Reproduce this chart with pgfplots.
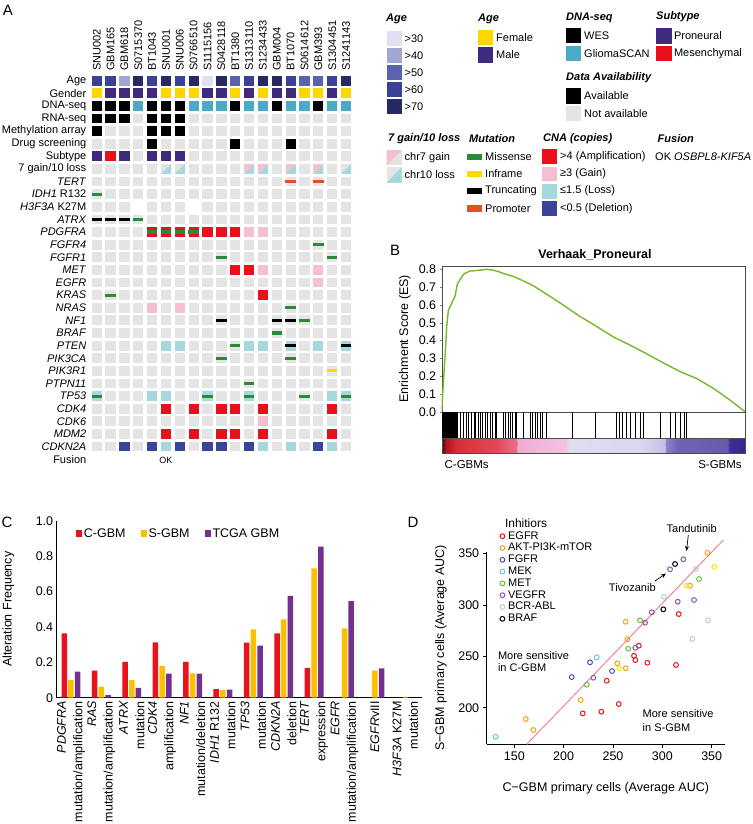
\documentclass[border=0pt]{standalone}
\usepackage{fontspec}
\setmainfont{Liberation Sans}
\usepackage{pgfplots}
\usepackage{pgfplotstable}
\pgfplotsset{compat=1.18}
\usetikzlibrary{arrows.meta}
\pgfplotsset{/pgf/number format/assume math mode=true}

\definecolor{cellgray}{HTML}{E4E4E4}
\definecolor{agea}{HTML}{DFE0F2}
\definecolor{ageb}{HTML}{A3A5D3}
\definecolor{agec}{HTML}{5B62AE}
\definecolor{aged}{HTML}{3A4196}
\definecolor{agee}{HTML}{252A63}
\definecolor{female}{HTML}{FFD700}
\definecolor{male}{HTML}{3F2A80}
\definecolor{gliomascan}{HTML}{4AAAC8}
\definecolor{ampred}{HTML}{E8111B}
\definecolor{gainpink}{HTML}{F4BFCF}
\definecolor{lossblue}{HTML}{A5D8DC}
\definecolor{delblue}{HTML}{3A4599}
\definecolor{misgreen}{HTML}{2B8A3A}
\definecolor{infyellow}{HTML}{FFD800}
\definecolor{promorange}{HTML}{E55022}
\definecolor{esgreen}{HTML}{76B82A}
\definecolor{cred}{HTML}{E8131D}
\definecolor{cyellow}{HTML}{FDC000}
\definecolor{cpurple}{HTML}{74308E}
\definecolor{dred}{HTML}{E8141E}
\definecolor{dorange}{HTML}{F7A21B}
\definecolor{dyellow}{HTML}{FFE20A}
\definecolor{dblue}{HTML}{4A4FA8}
\definecolor{dcyan}{HTML}{6CC6C8}
\definecolor{dgreen}{HTML}{6ABF3A}
\definecolor{dpurple}{HTML}{8F55B0}
\definecolor{dgray}{HTML}{C8C8C8}
\definecolor{dline}{HTML}{F0849C}

\pgfdeclareplotmark{cell}{\pgfpathrectangle{\pgfpoint{-5.1pt}{-4.9pt}}{\pgfpoint{10.2pt}{9.8pt}}\pgfusepathqfill}
\pgfdeclareplotmark{mutbar}{\pgfpathrectangle{\pgfpoint{-5.2pt}{-1.6pt}}{\pgfpoint{10.4pt}{3.2pt}}\pgfusepathqfill}
\pgfdeclareplotmark{lrtri}{\pgfpathmoveto{\pgfpoint{-5.1pt}{-4.9pt}}\pgfpathlineto{\pgfpoint{5.1pt}{-4.9pt}}\pgfpathlineto{\pgfpoint{5.1pt}{4.9pt}}\pgfpathclose\pgfusepathqfill}
\pgfdeclareplotmark{ultri}{\pgfpathmoveto{\pgfpoint{-5.1pt}{-4.9pt}}\pgfpathlineto{\pgfpoint{-5.1pt}{4.9pt}}\pgfpathlineto{\pgfpoint{5.1pt}{4.9pt}}\pgfpathclose\pgfusepathqfill}

\newcommand\fA{\fontsize{11}{13}\selectfont}
\newcommand\fB{\fontsize{12.5}{15}\selectfont}
\newcommand\fL{\fontsize{15}{17}\selectfont}

% oncoprint base layer: rows = features (Age ... CDKN2A), columns = samples
\pgfplotstableread{
c0 c1 c2 c3 c4 c5 c6 c7 c8 c9 c10 c11 c12 c13 c14 c15 c16 c17 c18
a6 a6 a4 a7 a6 a7 a6 a7 a3 a7 a5 a6 a7 a7 a6 a5 a5 a6 a7
f m m m m f f f m m f m f m m f f m f
k k k t k k k t t t k t t k t t k t t
k k k g k k k g g g g g g g g g g g g
k g g g k k k g g g g g g g g g g g g
g g g g k g g g g g k g g g k g g g g
p r p g p p p g g g g g g g g g g g g
g g g g g g g g g g g g g g g g g g g
g g g g g g g g g g g g g g g g g g g
g g g g g g g g g g g g g g g g g g g
g g g w g g g w g g g g g g g g g g g
g g g g g g g g g g g g g g g g g g g
g g g g r r r r r r r pk pk g g g g g g
g g g g g g g g g g g g g g g g g g g
g g g g g g g g g g g g g g g g g g g
g g g g g g g g g g r r pk g g g pk g g
g g g g g g g g g g g g g g g g pk g g
g g g g g g g g g g g g r g g g g g g
g g g g pk g pk g g g g g g g g g g g g
g g g g g g g g g g g g g g g g g g g
g g g g g g g g g g g g g g g g g g g
g g g g g lb lb g g g g lb lb g lb g lb g lb
g g g g g g g g g g g g g g g g g g g
g g g g g g g g g g g g g g g g g g g
g g g g g g g g g g g g g g g g g g g
lb g g g lb lb g g lb g g lb g g g g g lb lb
g g g g g r g r g r r g r g g g g r g
g g g g g g g g g g g g pk g g g g g g
g g g g g r g r g r r g r g g g g r g
g g db g db lb db g db db g db lb g lb g db lb g
}\onco

\begin{document}
\begin{tikzpicture}[font=\fA]
\useasboundingbox (0,0) rectangle (752pt,-824pt);

% ---------------- Panel A ----------------
\node[font=\fL] at (8pt,-10pt) {A};
\begin{axis}[at={(89.8pt,-74.3pt)}, anchor=north west, scale only axis,
  width=263.2pt, height=378.6pt,
  xmin=-0.5, xmax=18.5, ymin=-29.5, ymax=0.5,
  axis line style={draw=none}, major tick length=0pt, clip=false,
  xtick={0,...,18},
  xticklabels={SNU002,GBM165,GBM618,S0715370,BT1043,SNU001,SNU006,S0766510,S1115156,S0428118,BT1380,S1313110,S1234433,GBM004,BT1070,S0614612,GBM393,S1304451,S1241143},
  xticklabel pos=upper,
  xticklabel style={rotate=90, anchor=west, font=\fA},
  ytick={-29,...,0},
  yticklabels={\textit{CDKN2A},\textit{MDM2},\textit{CDK6},\textit{CDK4},\textit{TP53},\textit{PTPN11},\textit{PIK3R1},\textit{PIK3CA},\textit{PTEN},\textit{BRAF},\textit{NF1},\textit{NRAS},\textit{KRAS},\textit{EGFR},\textit{MET},\textit{FGFR1},\textit{FGFR4},\textit{PDGFRA},\textit{ATRX},\textit{H3F3A} K27M,\textit{IDH1} R132,\textit{TERT},7 gain/10 loss,Subtype,Drug screening,Methylation array,RNA-seq,DNA-seq,Gender,Age},
  yticklabel style={font=\fA},
  scatter/classes={
    g={mark=cell,cellgray}, w={mark=cell,white}, k={mark=cell,black},
    t={mark=cell,gliomascan}, a3={mark=cell,agea}, a4={mark=cell,ageb},
    a5={mark=cell,agec}, a6={mark=cell,aged}, a7={mark=cell,agee},
    f={mark=cell,female}, m={mark=cell,male}, p={mark=cell,male},
    r={mark=cell,ampred}, pk={mark=cell,gainpink}, lb={mark=cell,lossblue},
    db={mark=cell,delblue}}]
\pgfplotsinvokeforeach{0,...,18}{
  \addplot[scatter, only marks, point meta=explicit symbolic]
    table[x expr=#1, y expr=-\coordindex, meta=c#1] {\onco};
}
% 7 gain / 10 loss
\addplot[only marks, mark=lrtri, color=lossblue] coordinates {(5,-7)(6,-7)(11,-7)(12,-7)(14,-7)(16,-7)(18,-7)};
\addplot[only marks, mark=ultri, color=gainpink] coordinates {(11,-7)(12,-7)(14,-7)(16,-7)};
% mutations
\addplot[only marks, mark=mutbar, color=misgreen] coordinates {(0,-9)(3,-11)(4,-12)(5,-12)(6,-12)(7,-12)(16,-13)(9,-14)(17,-14)(1,-17)(14,-18)(15,-19)(13,-20)(10,-21)(9,-22)(14,-22)(11,-24)(0,-25)(8,-25)(11,-25)(15,-25)(18,-25)};
\addplot[only marks, mark=mutbar, color=black] coordinates {(0,-11)(1,-11)(2,-11)(9,-19)(13,-19)(14,-19)(14,-21)(18,-21)};
\addplot[only marks, mark=mutbar, color=infyellow] coordinates {(17,-23)};
\addplot[only marks, mark=mutbar, color=promorange] coordinates {(14,-8)(16,-8)};
\node[anchor=east, font=\fA] at (axis cs:-0.5,-30) {Fusion};
\node[font=\fontsize{9}{10}\selectfont] at (axis cs:5,-30.1) {OK};
\end{axis}

% Legend of panel A
\begin{scope}[every node/.style={anchor=west, inner sep=0pt}]
\node[font=\fA\bfseries\itshape] at (386pt,-19pt) {Age};
\foreach \c/\t [count=\i from 0] in {agea/{>30},ageb/{>40},agec/{>50},aged/{>60},agee/{>70}}{
  \fill[\c] (386.7pt,{-38.4pt-\i*17.1pt+7.3pt}) rectangle (401.7pt,{-38.4pt-\i*17.1pt-7.3pt});
  \node at (404.5pt,{-38.4pt-\i*17.1pt}) {\t};
}
\node[font=\fA\bfseries\itshape] at (478pt,-19pt) {Age};
\fill[female] (477.7pt,-30pt) rectangle (493.3pt,-45.4pt); \node at (496pt,-37.7pt) {Female};
\fill[male] (477.7pt,-47.3pt) rectangle (493.3pt,-62.7pt); \node at (496pt,-55pt) {Male};
\node[font=\fA\bfseries\itshape] at (566pt,-17.7pt) {DNA-seq};
\fill[black] (566pt,-28pt) rectangle (581pt,-43.4pt); \node at (584pt,-35.7pt) {WES};
\fill[gliomascan] (566pt,-45.6pt) rectangle (581pt,-61pt); \node at (584pt,-53.3pt) {GliomaSCAN};
\node[font=\fA\bfseries\itshape] at (656pt,-17pt) {Subtype};
\fill[male] (656pt,-28.3pt) rectangle (671.5pt,-43.7pt); \node at (673.8pt,-36pt) {Proneural};
\fill[ampred] (656pt,-45.6pt) rectangle (671.5pt,-61pt); \node at (673.8pt,-53.3pt) {Mesenchymal};
\node[font=\fA\bfseries\itshape] at (566pt,-77.3pt) {Data Availability};
\fill[black] (566pt,-88.3pt) rectangle (581pt,-103.7pt); \node at (584pt,-96pt) {Available};
\fill[cellgray] (566pt,-105.6pt) rectangle (581pt,-121pt); \node at (584pt,-113.3pt) {Not available};
% second legend row
\node[font=\fA\bfseries\itshape] at (388pt,-139pt) {7 gain/10 loss};
\fill[cellgray] (386.7pt,-150pt) rectangle (401.7pt,-165.4pt);
\fill[gainpink] (386.7pt,-165.4pt) -- (386.7pt,-150pt) -- (401.7pt,-150pt) -- cycle;
\node at (404.5pt,-157.7pt) {chr7 gain};
\fill[cellgray] (386.7pt,-167.3pt) rectangle (401.7pt,-182.7pt);
\fill[lossblue] (386.7pt,-182.7pt) -- (401.7pt,-182.7pt) -- (401.7pt,-167.3pt) -- cycle;
\node at (404.5pt,-175pt) {chr10 loss};
\node[font=\fA\bfseries\itshape] at (469pt,-139pt) {Mutation};
\foreach \c/\t [count=\i from 0] in {misgreen/Missense,infyellow/Inframe,black/Truncating,promorange/Promoter}{
  \fill[\c] (466.7pt,{-156.7pt-\i*17.2pt+3.2pt}) rectangle (481.7pt,{-156.7pt-\i*17.2pt-3.2pt});
  \node at (485pt,{-156.7pt-\i*17.2pt}) {\t};
}
\node[font=\fA\bfseries\itshape] at (543pt,-139pt) {CNA (copies)};
\foreach \c/\t [count=\i from 0] in {ampred/{>4 (Amplification)},gainpink/{≥3 (Gain)},lossblue/{≤1.5 (Loss)},delblue/{<0.5 (Deletion)}}{
  \fill[\c] (542.3pt,{-156.7pt-\i*17.2pt+7.4pt}) rectangle (556.7pt,{-156.7pt-\i*17.2pt-7.4pt});
  \node at (560pt,{-156.7pt-\i*17.2pt}) {\t};
}
\node[font=\fA\bfseries\itshape] at (657.5pt,-139pt) {Fusion};
\node at (655pt,-156.7pt) {OK \textit{OSBPL8-KIF5A}};
\end{scope}

% ---------------- Panel B ----------------
\node[font=\fL] at (395pt,-250pt) {B};
\node[font=\fB\bfseries] at (595pt,-255pt) {Verhaak\_Proneural};
\begin{axis}[at={(441.7pt,-266pt)}, anchor=north west, scale only axis,
  width=303.3pt, height=145.7pt, xmin=0, xmax=1, ymin=0, ymax=0.8185,
  axis line style={black!70, line width=0.4pt},
  xtick=\empty, ytick={0,0.1,...,0.8}, ytick pos=left, tick align=outside,
  major tick length=2pt,
  yticklabels={0.0,0.1,0.2,0.3,0.4,0.5,0.6,0.7,0.8},
  yticklabel style={font=\fB},
  ylabel={Enrichment Score (ES)}, ylabel style={font=\fB, at={(axis description cs:-0.121,0.5)}, anchor=center}]
\addplot[esgreen, line width=1.4pt] coordinates {
(0,0)(0.0055,0.16)(0.011,0.31)(0.0165,0.48)(0.022,0.57)(0.033,0.61)(0.044,0.65)(0.052,0.72)(0.06,0.74)(0.071,0.77)(0.08,0.78)(0.093,0.79)(0.126,0.795)(0.148,0.80)(0.17,0.795)(0.187,0.787)(0.203,0.777)(0.236,0.76)(0.269,0.735)(0.30,0.71)(0.346,0.66)(0.40,0.60)(0.456,0.535)(0.50,0.49)(0.566,0.42)(0.62,0.375)(0.676,0.325)(0.73,0.275)(0.786,0.225)(0.84,0.187)(0.896,0.131)(0.95,0.066)(1,0)};
\end{axis}
\begin{axis}[at={(441.7pt,-411.7pt)}, anchor=north west, scale only axis,
  width=303.3pt, height=26.6pt, xmin=0, xmax=1, ymin=0, ymax=1,
  axis line style={black!70, line width=0.4pt}, xtick=\empty, ytick=\empty]
\addplot[fill=black, draw=none] coordinates {(0,1)(0.055,1)} \closedcycle;
\addplot[ycomb, black, line width=0.55pt, mark=none] coordinates {
(0.060,1)(0.071,1)(0.080,1)(0.088,1)(0.096,1)(0.107,1)(0.112,1)(0.119,1)(0.126,1)(0.135,1)(0.143,1)(0.151,1)(0.159,1)(0.167,1)(0.176,1)(0.181,1)(0.203,1)(0.211,1)(0.220,1)(0.225,1)(0.234,1)(0.242,1)(0.247,1)(0.269,1)(0.291,1)(0.300,1)(0.308,1)(0.315,1)(0.324,1)(0.333,1)(0.346,1)(0.429,1)(0.505,1)(0.577,1)(0.586,1)(0.596,1)(0.610,1)(0.623,1)(0.637,1)(0.656,1)(0.665,1)(0.720,1)(0.753,1)(0.769,1)(0.786,1)(0.799,1)(0.805,1)};
\end{axis}
\begin{axis}[at={(441.7pt,-438.3pt)}, anchor=north west, scale only axis,
  width=303.3pt, height=14.4pt, xmin=0, xmax=1, ymin=0, ymax=1,
  axis line style={black!70, line width=0.4pt}, xtick=\empty, ytick=\empty,
  axis on top,
  colormap={gsea}{rgb255(0pt)=(70,5,15) rgb255(15pt)=(175,20,35) rgb255(50pt)=(218,45,55) rgb255(180pt)=(226,72,88) rgb255(245pt)=(230,112,138) rgb255(250pt)=(240,172,210) rgb255(410pt)=(242,195,225) rgb255(420pt)=(224,221,240) rgb255(660pt)=(218,215,238) rgb255(735pt)=(200,190,228) rgb255(740pt)=(140,130,205) rgb255(780pt)=(112,98,182) rgb255(940pt)=(105,90,170) rgb255(950pt)=(58,48,148) rgb255(1000pt)=(50,40,140)},
  point meta min=0, point meta max=1]
\addplot[surf, shader=interp, point meta=x, mesh/cols=15] table {
x y
0 0
0.015 0
0.05 0
0.18 0
0.245 0
0.25 0
0.41 0
0.42 0
0.66 0
0.735 0
0.74 0
0.78 0
0.94 0
0.95 0
1 0
0 1
0.015 1
0.05 1
0.18 1
0.245 1
0.25 1
0.41 1
0.42 1
0.66 1
0.735 1
0.74 1
0.78 1
0.94 1
0.95 1
1 1
};
\end{axis}
\node[font=\fontsize{11.5}{13}\selectfont] at (466.7pt,-465pt) {C-GBMs};
\node[font=\fontsize{11.5}{13}\selectfont] at (720pt,-465pt) {S-GBMs};

% ---------------- Panel C ----------------
\node[font=\fL] at (7pt,-522pt) {C};
\begin{axis}[at={(56.7pt,-697.7pt)}, anchor=south west, scale only axis,
  width=365pt, height=177pt, xmin=-0.47, xmax=11.54, ymin=0, ymax=1,
  axis x line=bottom, axis y line=left,
  axis line style={-, black, line width=0.8pt},
  major tick length=0pt,
  ytick={0,0.2,0.4,0.6,0.8,1}, yticklabels={0,0.2,0.4,0.6,0.8,1.0},
  yticklabel style={font=\fB},
  xtick={0,...,11},
  xticklabels={{\textit{PDGFRA}\\mutation/amplification},{\textit{RAS}\\mutation/amplification},{\textit{ATRX}\\mutation},{\textit{CDK4}\\amplification},{\textit{NF1}\\mutation/deletion},{\textit{IDH1} R132\\mutation},{\textit{TP53}\\mutation},{\textit{CDKN2A}\\deletion},{\textit{TERT}\\expression},{\textit{EGFR}\\mutation/amplification},{\textit{EGFR}vIII},{\textit{H3F3A} K27M\\mutation}},
  xticklabel style={rotate=90, anchor=east, align=right, font=\fontsize{12.5}{16.5}\selectfont},
  ylabel={Alteration Frequency}, ylabel style={font=\fB, at={(axis description cs:-0.132,0.5)}, anchor=center},
  legend columns=3,
  legend style={draw=none, fill=none, inner sep=0pt, at={(axis description cs:0.052,0.925)}, anchor=west, font=\fB, /tikz/every even column/.append style={column sep=13pt}},
  legend image code/.code={\draw[#1,/tikz/.cd,draw=none] (0pt,-3.5pt) rectangle (6pt,3.5pt);}]
\addplot[ybar, bar width=5.5pt, bar shift=-6.7pt, fill=cred, draw=none] coordinates {
(0,0.364)(1,0.153)(2,0.203)(3,0.313)(4,0.203)(5,0.049)(6,0.311)(7,0.364)(8,0.168)(9,0)(10,0)(11,0)};
\addplot[ybar, bar width=5.5pt, bar shift=0pt, fill=cyellow, draw=none] coordinates {
(0,0.100)(1,0.062)(2,0.100)(3,0.179)(4,0.138)(5,0.043)(6,0.386)(7,0.443)(8,0.731)(9,0.392)(10,0.153)(11,0.005)};
\addplot[ybar, bar width=5.5pt, bar shift=6.7pt, fill=cpurple, draw=none] coordinates {
(0,0.147)(1,0.015)(2,0.056)(3,0.136)(4,0.136)(5,0.045)(6,0.294)(7,0.575)(8,0.853)(9,0.545)(10,0.166)(11,0)};
\legend{C-GBM,S-GBM,TCGA GBM}
\end{axis}

% ---------------- Panel D ----------------
\node[font=\fL] at (413pt,-522pt) {D};
\begin{axis}[at={(486.7pt,-744.3pt)}, anchor=south west, scale only axis,
  width=238.3pt, height=192.7pt, xmin=122, xmax=363.5, ymin=164.4, ymax=352,
  axis x line=bottom, axis y line=left,
  axis line style={-, black, line width=0.8pt},
  tick align=outside, major tick length=4pt, tick style={black, line width=0.8pt},
  xtick={150,200,250,300,350}, ytick={200,250,300,350},
  ticklabel style={font=\fB},
  xlabel={C−GBM primary cells (Average AUC)},
  xlabel style={font=\fB, at={(axis description cs:0.5,-0.228)}, anchor=center},
  ylabel={S−GBM primary cells (Average AUC)},
  ylabel style={font=\fB, at={(axis description cs:-0.192,0.5)}, anchor=center},
  clip=false,
  legend style={draw=none, fill=none, inner sep=0pt, at={(axis description cs:0.055,1.11)}, anchor=north west,
    font=\fontsize{11}{12}\selectfont, row sep=0.6pt,
    nodes={inner sep=0.8pt, text height=7.6pt, text depth=2pt},
    /tikz/every odd column/.append style={column sep=2.5pt}},
  legend cell align=left,
  legend image code/.code={\draw[#1] plot coordinates {(2.5pt,0pt)};}]
\addplot[dline, line width=1pt, forget plot] coordinates {(162.6,164.4)(361.8,363.3)};
\addplot[only marks, mark=o, mark size=2.4pt, line width=1pt, dred] coordinates {
(219.3,194.5)(238.2,196.1)(255.8,203.6)(243.6,226.3)(271.3,250.6)(272.6,246.4)(276.1,260.4)(284.8,243.8)(316.6,291.2)(313.9,241.6)};
\addplot[only marks, mark=o, mark size=2.4pt, line width=1pt, dorange] coordinates {
(161.6,189)(169.3,178.3)(217.3,207.5)(254.4,243.2)(262.9,238.4)(264.5,266.6)(262.9,283.7)(328.1,318.8)(345.6,350.9)};
\addplot[only marks, mark=o, mark size=2.4pt, line width=1pt, dblue] coordinates {
(208.2,229.9)(226.7,244.2)(249,235.7)};
\addplot[only marks, mark=o, mark size=2.4pt, line width=1pt, dcyan] coordinates {
(131.1,171.8)(233.5,249.1)};
\addplot[only marks, mark=o, mark size=2.4pt, line width=1pt, dgreen] coordinates {
(223.4,222.4)(265.5,257.4)(277.4,285.1)(337.2,325.3)};
\addplot[only marks, mark=o, mark size=2.4pt, line width=1pt, dpurple] coordinates {
(230.1,229.2)(272.6,258.4)(282.5,282.8)(289.3,292.9)(315.6,303.2)(332.1,304.9)(307.8,334.8)(321.3,344.5)};
\addplot[only marks, mark=o, mark size=2.4pt, line width=1pt, dgray] coordinates {
(301.7,308.1)(330.4,266.9)(346.3,285.1)(333.8,335.1)};
\addplot[only marks, mark=o, mark size=2.4pt, line width=1pt, black] coordinates {
(301,295.8)(312.9,339.9)};
\addplot[only marks, mark=o, mark size=2.4pt, line width=1pt, dyellow, forget plot] coordinates {
(256.4,238.4)(324.7,318.8)(352.7,337)};
\legend{EGFR,AKT-PI3K-mTOR,FGFR,MEK,MET,VEGFR,BCR-ABL,BRAF}
\end{axis}
\node[anchor=west, font=\fontsize{12}{14}\selectfont] at (501.5pt,-523.3pt) {Inhitiors};
\node[font=\fA] at (691.7pt,-528.3pt) {Tandutinib};
\draw[-{Stealth[length=5pt,width=4pt]}, line width=0.7pt] (688.3pt,-535pt) -- (686.5pt,-551pt);
\node[font=\fA] at (632.3pt,-587.7pt) {Tivozanib};
\draw[-{Stealth[length=5pt,width=4pt]}, line width=0.7pt] (655pt,-581pt) -- (666pt,-573.5pt);
\node[anchor=north west, align=left, inner sep=0pt, font=\fontsize{11}{12.3}\selectfont] at (497.8pt,-651.5pt) {More sensitive\\in C-GBM};
\node[anchor=north west, align=left, inner sep=0pt, font=\fontsize{11}{13.4}\selectfont] at (642.5pt,-709.8pt) {More sensitive\\in S-GBM};
\end{tikzpicture}
\end{document}
